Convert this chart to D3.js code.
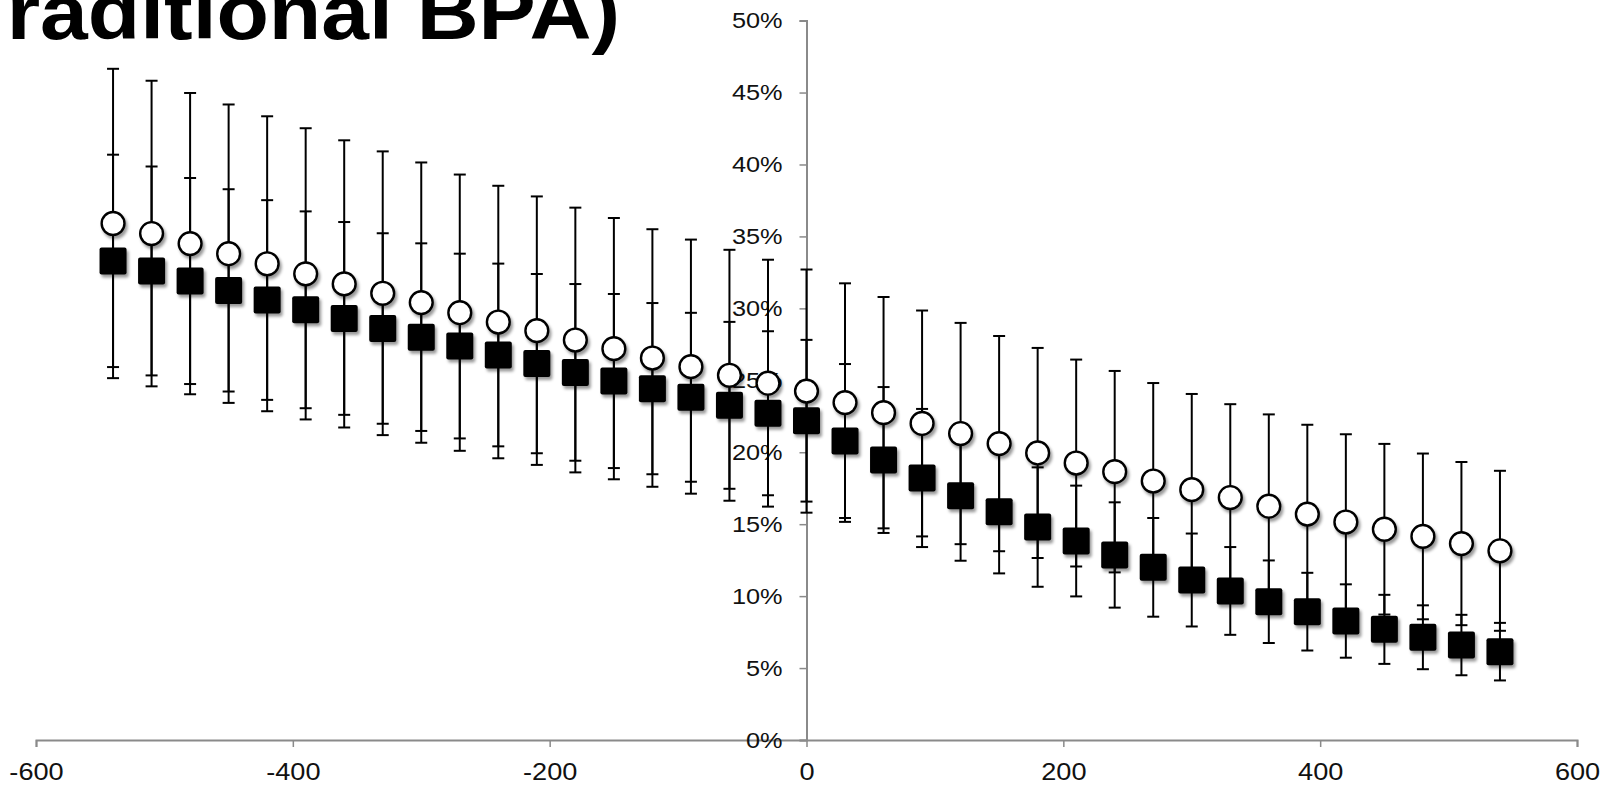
<!DOCTYPE html>
<html>
<head>
<meta charset="utf-8">
<script src="https://cdn.jsdelivr.net/npm/d3@7"></script>
<style>
  html, body { margin: 0; padding: 0; background: #fff; overflow: hidden; }
  text { font-family: "Liberation Sans", Arial, Helvetica, sans-serif; }
</style>
</head>
<body>
<div id="chart"></div>
<script>
const WIDTH = 1616
const HEIGHT = 786

// distance (x) for every point
const distances = [-540, -510, -480, -450, -420, -390, -360, -330, -300, -270, -240, -210, -180,
  -150, -120, -90, -60, -30, 0, 30, 60, 90, 120, 150, 180, 210, 240, 270, 300, 330, 360,
  390, 420, 450, 480, 510, 540]

// open circles (%), with +/- error
const circleValues = [35.9, 35.2, 34.5, 33.8, 33.1, 32.4, 31.7, 31.05, 30.4, 29.7, 29.05, 28.45,
  27.8, 27.2, 26.55, 25.95, 25.35, 24.8, 24.25, 23.45, 22.75, 22.0, 21.3, 20.6, 19.95, 19.25,
  18.65, 18.0, 17.4, 16.85, 16.25, 15.7, 15.15, 14.65, 14.15, 13.65, 13.15]
const circleErrors = [10.75, 10.62, 10.47, 10.37, 10.25, 10.12, 9.98, 9.86, 9.74, 9.6, 9.47, 9.33,
  9.2, 9.08, 8.95, 8.83, 8.72, 8.58, 8.45, 8.29, 8.04, 7.85, 7.69, 7.48, 7.3, 7.19, 7.0, 6.81,
  6.65, 6.49, 6.38, 6.21, 6.1, 5.93, 5.76, 5.67, 5.56]

// filled squares (%), with +/- error
const squareValues = [33.3, 32.6, 31.9, 31.25, 30.58, 29.9, 29.3, 28.6, 28.0, 27.38, 26.76, 26.16,
  25.55, 24.95, 24.42, 23.82, 23.26, 22.71, 22.19, 20.78, 19.46, 18.21, 16.98, 15.87, 14.8, 13.83,
  12.86, 12.0, 11.12, 10.36, 9.61, 8.92, 8.27, 7.69, 7.14, 6.6, 6.14]
const squareErrors = [7.38, 7.26, 7.16, 7.03, 6.94, 6.84, 6.7, 6.62, 6.52, 6.42, 6.35, 6.23, 6.14,
  6.05, 5.95, 5.87, 5.8, 5.7, 5.62, 5.35, 5.07, 4.8, 4.52, 4.29, 4.15, 3.85, 3.66, 3.43, 3.23,
  3.05, 2.87, 2.7, 2.55, 2.4, 2.22, 2.1, 2.0]

const xTicks = [-600, -400, -200, 0, 200, 400, 600]
const yTicks = [0, 5, 10, 15, 20, 25, 30, 35, 40, 45, 50]
const titleText = '(Traditional BPA)'

// the slide's text is a little stretched sideways
const X_STRETCH = 1.18
const Y_STRETCH = 1.15

const svg = d3.select('#chart')
  .append('svg')
  .attr('width', WIDTH)
  .attr('height', HEIGHT)

const x = d3.scaleLinear().domain([-600, 600]).range([36, 1577])
const y = d3.scaleLinear().domain([0, 50]).range([740, 20.6])

const defs = svg.append('defs')
defs.append('filter')
  .attr('id', 'shadow')
  .attr('x', '-40%').attr('y', '-40%')
  .attr('width', '180%').attr('height', '180%')
  .append('feDropShadow')
  .attr('dx', 2).attr('dy', 3)
  .attr('stdDeviation', 1.6)
  .attr('flood-color', '#000')
  .attr('flood-opacity', 0.4)

// cut-off slide title
svg.append('text')
  .attr('transform', 'translate(620,39) scale(1.1,1)')
  .attr('text-anchor', 'end')
  .attr('font-size', 78)
  .attr('font-weight', 'bold')
  .attr('fill', '#000')
  .text(titleText)

// x axis
const xAxis = svg.append('g')
  .attr('transform', `translate(0,${y(0)})`)
  .call(d3.axisBottom(x).tickValues(xTicks).tickSize(7).tickFormat(d3.format('d')))
xAxis.select('.domain').attr('stroke', '#8a8a8a').attr('stroke-width', 2)
xAxis.selectAll('.tick line').attr('stroke', '#8a8a8a').attr('stroke-width', 1.5)
xAxis.selectAll('.tick text')
  .attr('y', 40)
  .attr('dy', null)
  .attr('font-size', 23)
  .attr('fill', '#111')
  .attr('transform', `scale(${X_STRETCH},1)`)
  .text(d => d < 0 ? '-' + Math.abs(d) : d)

// y axis
const yAxis = svg.append('g')
  .attr('transform', `translate(${x(0)},0)`)
  .call(d3.axisLeft(y).tickValues(yTicks).tickSize(7).tickFormat(d => d + '%'))
yAxis.select('.domain').attr('stroke', '#8a8a8a').attr('stroke-width', 2)
yAxis.selectAll('.tick line').attr('stroke', '#8a8a8a').attr('stroke-width', 1.5)
yAxis.selectAll('.tick text')
  .attr('font-size', 22)
  .attr('fill', '#111')
  .attr('x', -24 / Y_STRETCH)
  .attr('transform', `scale(${Y_STRETCH},1)`)

const points = distances.map((d, i) => ({
  d,
  c: circleValues[i], ce: circleErrors[i],
  s: squareValues[i], se: squareErrors[i]
}))

const CAP = 6

function drawErrors(g, val, err) {
  const bar = g.selectAll(null)
    .data(points)
    .enter()
    .append('g')
    .attr('stroke', '#000')
    .attr('stroke-width', 2)
  bar.append('line')
    .attr('x1', p => x(p.d)).attr('x2', p => x(p.d))
    .attr('y1', p => y(p[val] + p[err])).attr('y2', p => y(p[val] - p[err]))
  bar.append('line')
    .attr('x1', p => x(p.d) - CAP).attr('x2', p => x(p.d) + CAP)
    .attr('y1', p => y(p[val] + p[err])).attr('y2', p => y(p[val] + p[err]))
  bar.append('line')
    .attr('x1', p => x(p.d) - CAP).attr('x2', p => x(p.d) + CAP)
    .attr('y1', p => y(p[val] - p[err])).attr('y2', p => y(p[val] - p[err]))
}

const gErr = svg.append('g').attr('class', 'errors')
drawErrors(gErr, 'c', 'ce')
drawErrors(gErr, 's', 'se')

const SQ = 27
svg.append('g')
  .attr('class', 'squares')
  .selectAll('rect')
  .data(points)
  .enter()
  .append('rect')
  .attr('x', p => x(p.d) - SQ / 2)
  .attr('y', p => y(p.s) - SQ / 2)
  .attr('width', SQ)
  .attr('height', SQ)
  .attr('rx', 2)
  .attr('fill', '#000')
  .attr('filter', 'url(#shadow)')

svg.append('g')
  .attr('class', 'circles')
  .selectAll('circle')
  .data(points)
  .enter()
  .append('circle')
  .attr('cx', p => x(p.d))
  .attr('cy', p => y(p.c))
  .attr('r', 11.4)
  .attr('fill', '#fff')
  .attr('stroke', '#000')
  .attr('stroke-width', 2.4)
  .attr('filter', 'url(#shadow)')
</script>
</body>
</html>
